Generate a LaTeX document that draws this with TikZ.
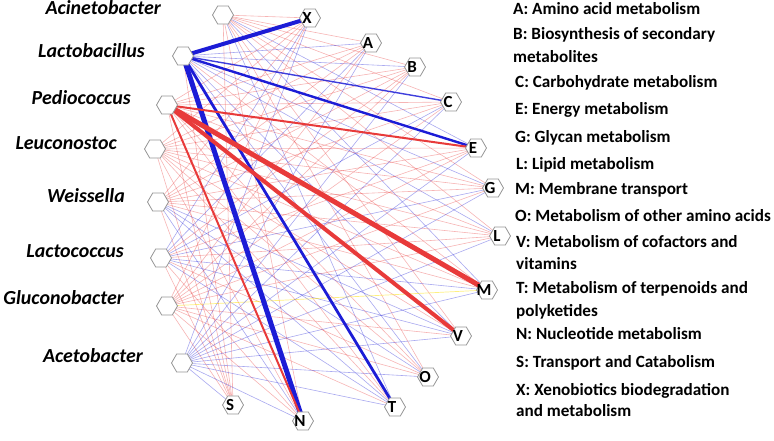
\documentclass[tikz,border=0pt]{standalone}
\usepackage{fontspec}
\setmainfont{Carlito}
\usetikzlibrary{shapes.geometric}
\definecolor{edgered}{RGB}{232,58,58}
\definecolor{edgeblue}{RGB}{28,28,214}
\definecolor{hexgray}{RGB}{150,150,150}
\tikzset{
  hexnode/.style={regular polygon, regular polygon sides=6, minimum size=21bp, inner sep=0pt, draw=hexgray, line width=0.8bp, fill=white},
  hexlbl/.style={font=\fontsize{17}{17}\selectfont\bfseries, inner sep=0pt, xshift=-3bp},
  genus/.style={anchor=base east, inner sep=0pt, font=\fontsize{20}{20}\selectfont\bfseries\itshape},
  legend/.style={anchor=base west, inner sep=0pt, font=\fontsize{17.2}{17.2}\selectfont\bfseries},
  redln/.style={draw=edgered, draw opacity=0.38, line width=0.6bp},
  bluln/.style={draw=edgeblue, draw opacity=0.38, line width=0.6bp},
  yelln/.style={draw=yellow!85!orange, draw opacity=0.5, line width=0.7bp},
  redthick/.style={draw=edgered, line width=#1},
  bluthick/.style={draw=edgeblue, line width=#1}
}
\begin{document}
\begin{tikzpicture}[x=1bp, y=-1bp]
\useasboundingbox (0,0) rectangle (774,441);
% coordinates of hex centres
\coordinate (gAci) at (223,15);
\coordinate (gLba) at (183,56);
\coordinate (gPed) at (167,105);
\coordinate (gLeu) at (155,149);
\coordinate (gWei) at (158,202);
\coordinate (gLco) at (161,258);
\coordinate (gGlu) at (167,306);
\coordinate (gAce) at (182,363);
\coordinate (fX) at (310,18);
\coordinate (fA) at (371,43);
\coordinate (fB) at (415,67);
\coordinate (fC) at (451,102);
\coordinate (fE) at (476,148);
\coordinate (fG) at (493,188);
\coordinate (fL) at (500,236);
\coordinate (fM) at (487,290);
\coordinate (fV) at (461,336);
\coordinate (fO) at (428,377);
\coordinate (fT) at (395,407);
\coordinate (fN) at (303,421);
\coordinate (fS) at (233,405);
% thin edges
\foreach \t/\c in {fX/redln,fA/redln,fB/redln,fC/redln,fE/bluln,fG/redln,fL/redln,fM/bluln,fV/redln,fO/redln,fT/bluln,fN/redln,fS/redln}
  \draw[\c] (gAci) -- (\t);
\foreach \t/\c in {fA/bluln,fB/bluln,fG/bluln,fL/bluln,fM/redln,fV/bluln,fO/bluln,fS/redln}
  \draw[\c] (gLba) -- (\t);
\foreach \t/\c in {fX/redln,fA/redln,fB/redln,fC/redln,fG/redln,fL/redln,fO/redln,fT/redln,fS/redln}
  \draw[\c] (gPed) -- (\t);
\foreach \t/\c in {fX/redln,fA/redln,fB/redln,fC/redln,fE/redln,fG/redln,fL/redln,fM/redln,fV/redln,fO/redln,fT/redln,fN/redln,fS/redln}
  \draw[\c] (gLeu) -- (\t);
\foreach \t/\c in {fX/redln,fA/redln,fB/redln,fC/redln,fE/redln,fG/redln,fL/redln,fM/redln,fV/bluln,fO/bluln,fT/bluln,fN/bluln,fS/redln}
  \draw[\c] (gWei) -- (\t);
\foreach \t/\c in {fX/bluln,fA/bluln,fB/redln,fC/bluln,fE/redln,fG/bluln,fL/redln,fM/bluln,fV/bluln,fO/redln,fT/bluln,fN/redln,fS/redln}
  \draw[\c] (gLco) -- (\t);
\foreach \t/\c in {fX/redln,fA/redln,fB/redln,fC/redln,fE/redln,fG/redln,fL/redln,fM/yelln,fV/redln,fO/redln,fT/redln,fN/redln,fS/redln}
  \draw[\c] (gGlu) -- (\t);
\foreach \t/\c in {fX/bluln,fA/bluln,fB/bluln,fC/bluln,fE/bluln,fG/bluln,fL/bluln,fM/bluln,fV/bluln,fO/bluln,fT/bluln,fN/bluln,fS/bluln}
  \draw[\c] (gAce) -- (\t);
% strong edges
\draw[bluthick=1.4bp, draw opacity=0.85] (gLba) -- (fC);
\draw[bluthick=2.4bp] (gLba) -- (fE);
\draw[bluthick=2.8bp] (gLba) -- (fT);
\draw[bluthick=4bp] (gLba) -- (fX);
\draw[bluthick=5bp] (gLba) -- (fN);
\draw[redthick=2bp] (gPed) -- (fE);
\draw[redthick=2bp] (gPed) -- (fN);
\draw[redthick=4bp] (gPed) -- (fV);
\draw[redthick=5bp] (gPed) -- (fM);
% hex nodes
\foreach \n in {gAci,gLba,gPed,gLeu,gWei,gLco,gGlu,gAce}
  \node[hexnode] (h\n) at (\n) {};
\node[hexnode, label={[hexlbl]center:X}] (hX) at (fX) {};
\node[hexnode, label={[hexlbl]center:A}] (hA) at (fA) {};
\node[hexnode, label={[hexlbl]center:B}] (hB) at (fB) {};
\node[hexnode, label={[hexlbl]center:C}] (hC) at (fC) {};
\node[hexnode, label={[hexlbl]center:E}] (hE) at (fE) {};
\node[hexnode, label={[hexlbl]center:G}] (hG) at (fG) {};
\node[hexnode, label={[hexlbl]center:L}] (hL) at (fL) {};
\node[hexnode, label={[hexlbl]center:M}] (hM) at (fM) {};
\node[hexnode, label={[hexlbl]center:V}] (hV) at (fV) {};
\node[hexnode, label={[hexlbl]center:O}] (hO) at (fO) {};
\node[hexnode, label={[hexlbl]center:T}] (hT) at (fT) {};
\node[hexnode, label={[hexlbl]center:N}] (hN) at (fN) {};
\node[hexnode, label={[hexlbl]center:S}] (hS) at (fS) {};
% genus labels
\node[genus] (tAci) at (161,15) {Acinetobacter};
\node[genus] (tLba) at (145,58) {Lactobacillus};
\node[genus] (tPed) at (131,105) {Pediococcus};
\node[genus] (tLeu) at (117,150) {Leuconostoc};
\node[genus] (tWei) at (125,203) {Weissella};
\node[genus] (tLco) at (124,258) {Lactococcus};
\node[genus] (tGlu) at (124,305) {Gluconobacter};
\node[genus] (tAce) at (143,363) {Acetobacter};
% legend
\node[legend] (lA) at (513,15) {A: Amino acid metabolism};
\node[legend] (lB) at (513,40) {B: Biosynthesis of secondary};
\node[legend] (lB2) at (513,62.5) {metabolites};
\node[legend] (lC) at (515,87.5) {C: Carbohydrate metabolism};
\node[legend] (lE) at (515,115) {E: Energy metabolism};
\node[legend] (lG) at (515,142.5) {G: Glycan metabolism};
\node[legend] (lL) at (516,170) {L: Lipid metabolism};
\node[legend] (lM) at (515,195) {M: Membrane transport};
\node[legend] (lO) at (515,221.5) {O: Metabolism of other amino acids};
\node[legend] (lV) at (516,247.5) {V: Metabolism of cofactors and};
\node[legend] (lV2) at (516,270) {vitamins};
\node[legend] (lT) at (516,294) {T: Metabolism of terpenoids and};
\node[legend] (lT2) at (516,316.5) {polyketides};
\node[legend] (lN) at (516,339.5) {N: Nucleotide metabolism};
\node[legend] (lS) at (516,367.5) {S: Transport and Catabolism};
\node[legend] (lX) at (516,395.5) {X: Xenobiotics biodegradation};
\node[legend] (lX2) at (516,416.5) {and metabolism};
\end{tikzpicture}
\end{document}
